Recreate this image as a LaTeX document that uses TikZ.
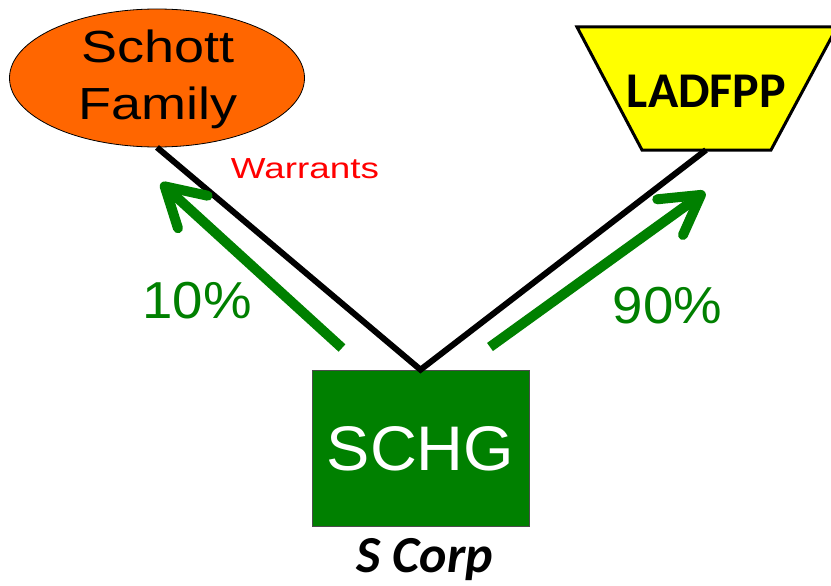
\documentclass[tikz,border=0pt]{standalone}
\usepackage{fontspec}
\setmainfont{Liberation Sans}
\newfontfamily\calib{Carlito}
\usetikzlibrary{shapes.geometric,arrows.meta}
\definecolor{dgreen}{RGB}{0,128,0}
\definecolor{orng}{RGB}{255,102,0}
\definecolor{ylw}{RGB}{255,255,0}
\definecolor{rd}{RGB}{255,0,0}
\tikzset{
  link/.style={draw=black, line width=6pt},
  share/.style={draw=dgreen, line width=10pt, -{Straight Barb[length=38pt,width=44pt,round]}},
  pct/.style={text=dgreen, font=\fontsize{52}{60}\selectfont, anchor=base, inner sep=0pt},
}
\begin{document}
\begin{tikzpicture}[x=1pt,y=-1pt]
\useasboundingbox (0,0) rectangle (831,586);
\clip (0,0) rectangle (831,586);
% Schott Family
\node[ellipse, draw=black, line width=0.8pt, fill=orng, minimum width=295pt, minimum height=138pt, inner sep=0pt] (schott) at (157,78) {};
\node[align=center, font=\fontsize{45}{57}\selectfont, inner sep=0pt] (schotttxt) at (158,79) {\scalebox{1.2}[1]{Schott}\\\scalebox{1.2}[1]{Family}};
% LADFPP trapezoid
\fill[ylw, draw=black, line width=3pt] (577,27) -- (837,27) -- (771,150) -- (642,150) -- cycle;
\node[font=\calib\bfseries\fontsize{50}{60}\selectfont, anchor=base, inner sep=0pt] (ladfpp) at (706.5,107) {LADFPP};
\coordinate (ladbot) at (706,150);
% SCHG
\node[draw=black!70, line width=0.6pt, fill=dgreen, minimum width=217pt, minimum height=156pt, inner sep=0pt] (schg) at (420.5,448) {};
\node[text=white, font=\fontsize{63}{70}\selectfont, anchor=base, inner sep=0pt] (schgtxt) at (420.5,470) {\scalebox{1.03}[1]{SCHG}};
\node[font=\calib\bfseries\itshape\fontsize{52}{60}\selectfont, anchor=base, inner sep=0pt] (scorp) at (425,572) {S Corp};
% black links
\draw[link, line join=miter] (schott.south) -- (schg.north) -- (ladbot);
% green share arrows
\coordinate (la0) at (342,348);
\coordinate (la1) at (161,183);
\coordinate (ra0) at (490,347);
\coordinate (ra1) at (705,192);
\draw[share] (la0) -- (la1);
\draw[share] (ra0) -- (ra1);
% labels
\node[pct] (p10) at (197,318) {\scalebox{1.05}[1]{10\%}};
\node[pct] (p90) at (667.5,323) {\scalebox{1.05}[1]{90\%}};
\node[text=rd, font=\fontsize{29}{34}\selectfont, anchor=base, inner sep=0pt] (warr) at (305,178) {\scalebox{1.27}[1]{Warrants}};
\end{tikzpicture}
\end{document}
